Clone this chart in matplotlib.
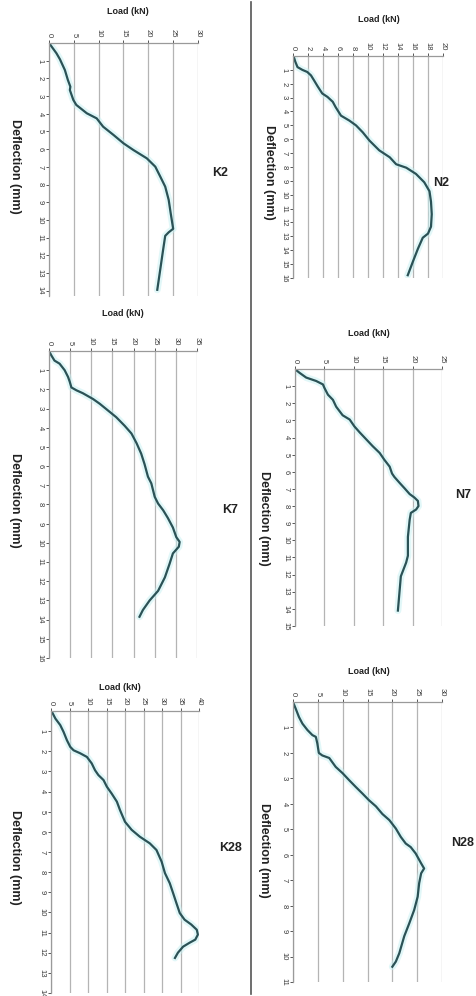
import numpy as np
import matplotlib.pyplot as plt
from matplotlib.lines import Line2D

plt.rcParams['font.family'] = ['Liberation Sans', 'DejaVu Sans']

# load (kN) against deflection (mm), one pair per specimen
k2_defl = [0, 0.58, 0.92, 1.53, 2.09, 2.47, 2.66, 3.22, 3.5, 3.97, 4.26, 4.73,
           5.2, 5.67, 6.05, 6.52, 6.99, 7.55, 8.12, 8.87, 9.62, 10.5, 10.7,
           10.9, 11.7, 12.8, 13.95]
k2_load = [0, 1.5, 2.2, 3.2, 3.8, 4.3, 4.2, 4.9, 5.5, 7.6, 9.6, 10.9,
           13.0, 15.0, 17.0, 19.7, 21.4, 22.4, 23.4, 24.1, 24.5, 25.0, 24.1,
           23.4, 22.97, 22.4, 21.8]

n2_defl = [0.05, 0.4, 0.8, 1.0, 1.15, 1.4, 1.75, 2.2, 2.7, 2.95, 3.3, 3.7, 4.3,
           4.65, 5.0, 5.5, 6.1, 6.8, 7.3, 7.8, 8.05, 8.5, 9.1, 9.75, 10.5, 11.4,
           12.3, 12.8, 13.1, 13.9, 14.8, 15.8]
n2_load = [0.1, 0.3, 0.6, 1.25, 1.9, 2.4, 2.8, 3.3, 3.9, 4.6, 5.3, 5.7, 6.4,
           7.5, 8.4, 9.3, 10.2, 11.5, 12.9, 13.75, 15.1, 16.4, 17.5, 18.2, 18.4,
           18.5, 18.4, 18.0, 17.3, 16.65, 16.0, 15.3]

k7_defl = [0, 0.23, 0.5, 0.66, 1.0, 1.35, 1.6, 1.9, 2.05, 2.2, 2.5, 2.75, 3.1,
           3.45, 3.9, 4.3, 4.8, 5.35, 5.9, 6.55, 6.9, 7.6, 7.95, 8.3, 8.7, 9.2,
           9.7, 9.95, 10.2, 10.55, 11.1, 11.8, 12.5, 13.0, 13.5, 13.85]
k7_load = [0, 0.55, 1.3, 2.5, 3.7, 4.5, 4.9, 5.3, 6.5, 8.0, 10.4, 12.0, 13.95,
           15.9, 17.9, 19.5, 20.7, 21.8, 22.6, 23.4, 24.2, 25.0, 25.8, 27.0,
           28.1, 29.3, 30.1, 30.9, 30.7, 29.3, 28.5, 27.4, 25.8, 23.8, 22.2, 21.4]

n7_defl = [0.04, 0.23, 0.5, 0.7, 0.9, 1.1, 1.5, 1.8, 2.2, 2.7, 2.95, 3.35, 3.7,
           4.1, 4.5, 4.9, 5.3, 5.7, 6.1, 6.3, 6.65, 6.95, 7.3, 7.5, 7.7, 8.0,
           8.2, 8.4, 8.8, 9.8, 10.9, 11.3, 12.1, 12.9, 14.1]
n7_load = [0.1, 0.8, 1.9, 3.6, 4.75, 5.0, 5.6, 6.45, 7.0, 8.1, 9.3, 10.1, 11.0,
           12.1, 13.2, 14.4, 15.2, 16.1, 16.5, 16.9, 17.8, 18.6, 19.5, 20.3,
           20.9, 21.0, 20.6, 19.7, 19.5, 19.2, 19.2, 18.9, 18.0, 17.8, 17.5]

k28_defl = [0.05, 0.38, 0.7, 1.04, 1.45, 1.78, 1.95, 2.1, 2.28, 2.6, 2.94, 3.18,
            3.43, 3.76, 4.1, 4.5, 4.92, 5.5, 5.9, 6.24, 6.57, 6.9, 7.48, 8.05,
            8.55, 9.04, 9.54, 10.03, 10.36, 10.6, 10.86, 11.1, 11.35, 11.5,
            11.7, 12.0, 12.26]
k28_load = [0.27, 1.2, 2.5, 3.4, 4.3, 5.2, 6.1, 7.9, 9.7, 11.0, 11.9, 12.8,
            14.2, 15.1, 16.4, 17.8, 18.65, 20.0, 21.8, 24.0, 26.7, 28.5, 29.9,
            30.8, 32.1, 33.0, 33.9, 34.8, 36.1, 37.9, 39.4, 39.7, 39.0, 37.5,
            35.7, 34.3, 33.5]

n28_defl = [0, 0.26, 0.59, 0.85, 1.1, 1.3, 1.37, 1.63, 2.0, 2.1, 2.2, 2.55, 2.8,
            3.07, 3.33, 3.6, 3.86, 4.1, 4.4, 4.64, 4.97, 5.3, 5.56, 5.7, 5.95,
            6.34, 6.54, 6.73, 7.12, 7.65, 8.17, 8.7, 9.2, 9.87, 10.2, 10.4]
n28_load = [0, 0.54, 1.2, 1.9, 2.9, 3.9, 4.6, 4.9, 5.2, 5.9, 7.3, 8.6, 10.0,
            11.3, 12.6, 14.0, 15.3, 16.7, 18.0, 19.4, 20.7, 21.7, 22.7, 23.7,
            24.7, 25.8, 26.4, 25.8, 25.4, 25.1, 24.4, 23.4, 22.4, 21.4, 20.7, 20.0]

W, H = 476, 996
fig = plt.figure(figsize=(W / 100, H / 100), dpi=100)


def px_box(left, right, top, bottom):
    return [left / W, 1 - bottom / H, (right - left) / W, (bottom - top) / H]


def panel(box, load, defl, load_max, load_step, defl_max, ylim_max, name,
          load_lbl, defl_lbl, name_lbl):
    ax = fig.add_axes(px_box(*box))
    ax.plot(load, defl, color='#c4f0f2', lw=5, alpha=0.5, solid_capstyle='round')
    ax.plot(load, defl, color='#2b5256', lw=1.6)
    ax.set_xlim(0, load_max)
    ax.set_ylim(ylim_max, 0)
    ax.xaxis.tick_top()
    ax.set_xticks(np.arange(0, load_max + 0.1, load_step))
    ax.set_yticks(np.arange(1, defl_max + 1))
    ax.tick_params(axis='x', labelsize=5.5, rotation=-90, length=2, pad=2,
                   colors='#3a3a3a', width=0.6)
    ax.tick_params(axis='y', labelsize=5.5, rotation=-90, length=2, pad=2,
                   colors='#3a3a3a', width=0.6)
    for lbl in ax.get_yticklabels():
        lbl.set_verticalalignment('center')
    ax.grid(axis='x', color='#b4b4b4', lw=0.9)
    ax.set_axisbelow(True)
    for side in ['right', 'bottom']:
        ax.spines[side].set_visible(False)
    for side in ['top', 'left']:
        ax.spines[side].set_color('#9a9a9a')
        ax.spines[side].set_linewidth(0.9)
    fig.text(load_lbl[0] / W, 1 - load_lbl[1] / H, 'Load (kN)', fontsize=6.5,
             fontweight='bold', ha='center', va='center', color='#222222')
    fig.text(defl_lbl[0] / W, 1 - defl_lbl[1] / H, 'Deflection (mm)', fontsize=9,
             fontweight='bold', ha='center', va='center', rotation=-90,
             color='#222222')
    fig.text(name_lbl[0] / W, 1 - name_lbl[1] / H, name, fontsize=9,
             fontweight='bold', ha='center', va='center', color='#222222')


panel((49, 198, 43, 296), k2_load, k2_defl, 30, 5, 14, 14.3, 'K2',
      (128, 12), (15, 166), (220, 173))
panel((293, 443, 56, 278), n2_load, n2_defl, 20, 2, 16, 16.0, 'N2',
      (379, 20), (269, 172), (441, 183))
panel((49, 197, 351, 658), k7_load, k7_defl, 35, 5, 16, 16.0, 'K7',
      (123, 313), (15, 500), (230, 510))
panel((295, 442, 369, 626), n7_load, n7_defl, 25, 5, 15, 15.0, 'N7',
      (369, 333), (264, 518), (463, 495))
panel((51, 199, 711, 993), k28_load, k28_defl, 40, 5, 14, 14.0, 'K28',
      (120, 687), (15, 857), (230, 848))
panel((293, 442, 702, 982), n28_load, n28_defl, 30, 5, 11, 11.0, 'N28',
      (369, 672), (264, 850), (463, 843))

# vertical rule between the two columns
fig.add_artist(Line2D([251 / W, 251 / W], [0.002, 0.998], color='#555555', lw=1.2))

fig.savefig('out.png', dpi=100)
